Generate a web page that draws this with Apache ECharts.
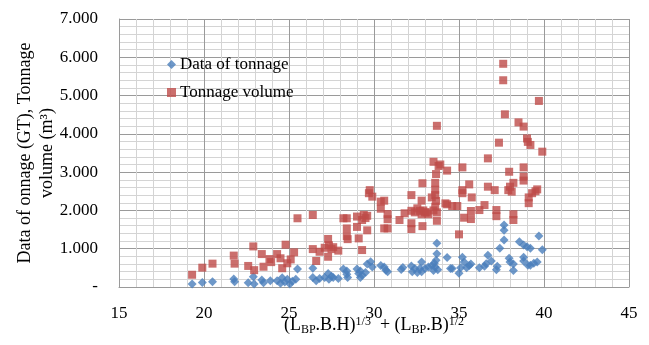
<!DOCTYPE html>
<html><head><meta charset="utf-8">
<script src="https://cdn.jsdelivr.net/npm/echarts@6/dist/echarts.min.js"></script>
<style>html,body{margin:0;padding:0;background:#fff}#c{width:649px;height:345px}</style>
</head><body><div id="c"></div>
<script>
// Series 1: Data of tonnage (GT)
const tonnageX = [19.3,19.9,20.5,21.75,21.8,22.6,22.9,22.95,23.4,23.5,23.9,24.3,24.5,24.6,24.75,24.9,25.05,25.2,25.4,25.5,26.4,26.4,26.6,26.8,27.1,27.3,27.35,27.5,27.6,27.9,28.2,28.4,28.4,28.45,29.0,29.1,29.2,29.3,29.6,29.8,29.9,29.5,29.2,30.4,30.6,30.7,30.8,31.6,31.7,32.2,32.25,32.4,32.55,32.7,32.8,32.8,33.0,33.2,33.4,33.5,33.6,33.65,33.7,33.7,33.55,33.75,34.3,34.5,34.6,35.0,35.1,35.2,35.3,35.45,35.6,35.7,36.2,36.5,36.7,36.6,36.9,37.2,37.25,37.4,37.65,37.65,37.65,37.95,38.0,38.2,38.2,38.55,38.8,39.0,39.2,38.8,38.8,39.05,39.2,39.4,39.6,39.7,39.9];
const tonnageY = [80,115,140,210,140,110,270,80,180,110,160,160,100,240,130,200,80,150,200,470,490,250,160,220,250,350,200,280,250,220,470,420,330,250,470,350,420,310,600,660,520,380,250,560,520,440,400,460,510,550,400,480,380,480,650,400,480,520,560,430,520,700,870,1140,620,450,770,480,480,360,500,780,650,500,560,600,500,540,830,610,680,450,540,1010,1620,1480,1230,750,650,600,430,1180,1100,1050,1010,780,680,570,570,620,650,1330,970];
// Series 2: Tonnage volume (m3)
const volumeX = [19.3,19.9,20.5,21.75,21.8,22.6,22.9,22.95,23.4,23.5,23.85,23.95,24.3,24.5,24.6,24.8,24.9,25.1,25.3,25.5,26.4,26.4,26.6,26.8,27.1,27.3,27.3,27.35,27.5,27.6,27.9,28.2,28.4,28.4,28.4,28.45,29.0,29.0,29.1,29.3,29.4,29.5,29.3,29.6,29.6,29.7,29.75,29.9,30.4,30.6,30.4,30.8,30.8,30.6,30.8,31.5,31.8,32.2,32.2,32.4,32.2,32.2,32.55,32.7,32.8,32.8,32.85,32.85,33.0,33.2,33.4,33.5,33.65,33.6,33.8,33.9,33.6,33.6,33.65,33.6,33.7,33.7,33.5,33.7,34.3,34.2,34.6,34.9,35.0,35.2,35.2,35.2,35.6,35.75,35.3,35.7,35.7,36.2,36.5,36.7,36.7,37.1,37.2,37.2,37.6,37.6,37.7,37.35,37.95,38.2,37.9,38.0,38.1,38.2,38.2,38.5,38.8,38.8,38.8,38.8,39.0,39.05,39.2,39.1,39.1,39.3,39.5,39.6,39.9,39.7,32.9,33.1,34.3];
const volumeY = [320,505,610,820,610,550,1060,440,860,530,730,650,860,750,490,1105,620,720,905,1795,1880,990,680,920,1025,1255,790,1090,990,1040,950,1795,1795,1530,1330,1250,1840,1570,1270,1750,1880,1800,965,1480,1860,2450,2530,2360,2230,2255,2045,1905,1770,1530,1530,1750,1925,2400,1990,1950,1665,1515,2055,1990,1900,2255,2710,1590,1950,1900,2340,3270,2950,2720,3160,3200,2540,2400,2250,2100,1950,1730,2000,4210,3040,2185,2115,2115,1375,3125,2450,2530,2680,2340,1810,1985,1775,2010,2140,3360,2620,2530,1850,2010,5830,5400,4510,3770,3010,2720,2530,2620,2490,1750,1900,4300,4190,3125,2780,2880,3880,3790,3710,2190,2340,2450,2500,2550,3535,4860,2000,1950,2160];
const xTicks = {min: 15, max: 45, step: 5};
const yTicks = {min: 0, max: 7000, step: 1000};
const seriesNames = ['Data of tonnage', 'Tonnage volume'];

const zip = (xs, ys) => xs.map((x, i) => [x, ys[i]]);
const font = 'Liberation Serif';
const chart = echarts.init(document.getElementById('c'), null, {renderer: 'canvas'});
chart.setOption({
  animation: false,
  grid: {left: 119, right: 20, top: 19, bottom: 58, containLabel: false},
  legend: {
    orient: 'vertical', left: 162, top: 51, itemGap: 11, itemWidth: 9, itemHeight: 9,
    textStyle: {fontFamily: font, fontSize: 17, color: '#000', padding: [0, 0, 0, -1]},
    data: seriesNames
  },
  xAxis: {
    type: 'value', min: xTicks.min, max: xTicks.max, interval: xTicks.step,
    axisLine: {lineStyle: {color: '#9a9a9a'}},
    axisTick: {show: false},
    axisLabel: {fontFamily: font, fontSize: 17, color: '#000', margin: 18},
    splitLine: {lineStyle: {color: '#9a9a9a'}},
    minorTick: {show: false, splitNumber: 5},
    minorSplitLine: {show: true, lineStyle: {color: '#d4d4d4'}},
    name: '(L{sub|BP}.B.H){sup|1/3}  + (L{sub|BP}.B){sup|1/2}',
    nameLocation: 'middle', nameGap: 28, nameMoveOverlap: false,
    nameTextStyle: {
      fontFamily: font, fontSize: 18, color: '#000',
      rich: {
        sub: {fontFamily: font, fontSize: 12, color: '#000', padding: [9, 0, 0, 0]},
        sup: {fontFamily: font, fontSize: 12, color: '#000', padding: [0, 0, 7, 0]}
      }
    }
  },
  yAxis: {
    type: 'value', min: yTicks.min, max: yTicks.max, interval: yTicks.step,
    axisLine: {show: true, lineStyle: {color: '#9a9a9a'}},
    axisTick: {show: false},
    axisLabel: {
      fontFamily: font, fontSize: 17, color: '#000', margin: 21,
      formatter: v => v === 0 ? '-' : (v / 1000).toFixed(0) + '.000'
    },
    splitLine: {lineStyle: {color: '#9a9a9a'}},
    minorTick: {show: false, splitNumber: 5},
    minorSplitLine: {show: true, lineStyle: {color: '#d4d4d4'}},
    name: 'Data of onnage (GT), Tonnage\nvolume (m³)',
    nameLocation: 'middle', nameGap: 61, nameRotate: 90, nameMoveOverlap: false,
    nameTextStyle: {fontFamily: font, fontSize: 18, color: '#000', lineHeight: 22}
  },
  series: [
    {name: seriesNames[0], type: 'scatter', symbol: 'diamond', symbolSize: 9,
     itemStyle: {color: '#4a7ebb'}, data: zip(tonnageX, tonnageY)},
    {name: seriesNames[1], type: 'scatter', symbol: 'rect', symbolSize: 8,
     itemStyle: {color: '#be4b48'}, data: zip(volumeX, volumeY)}
  ]
});
</script></body></html>
